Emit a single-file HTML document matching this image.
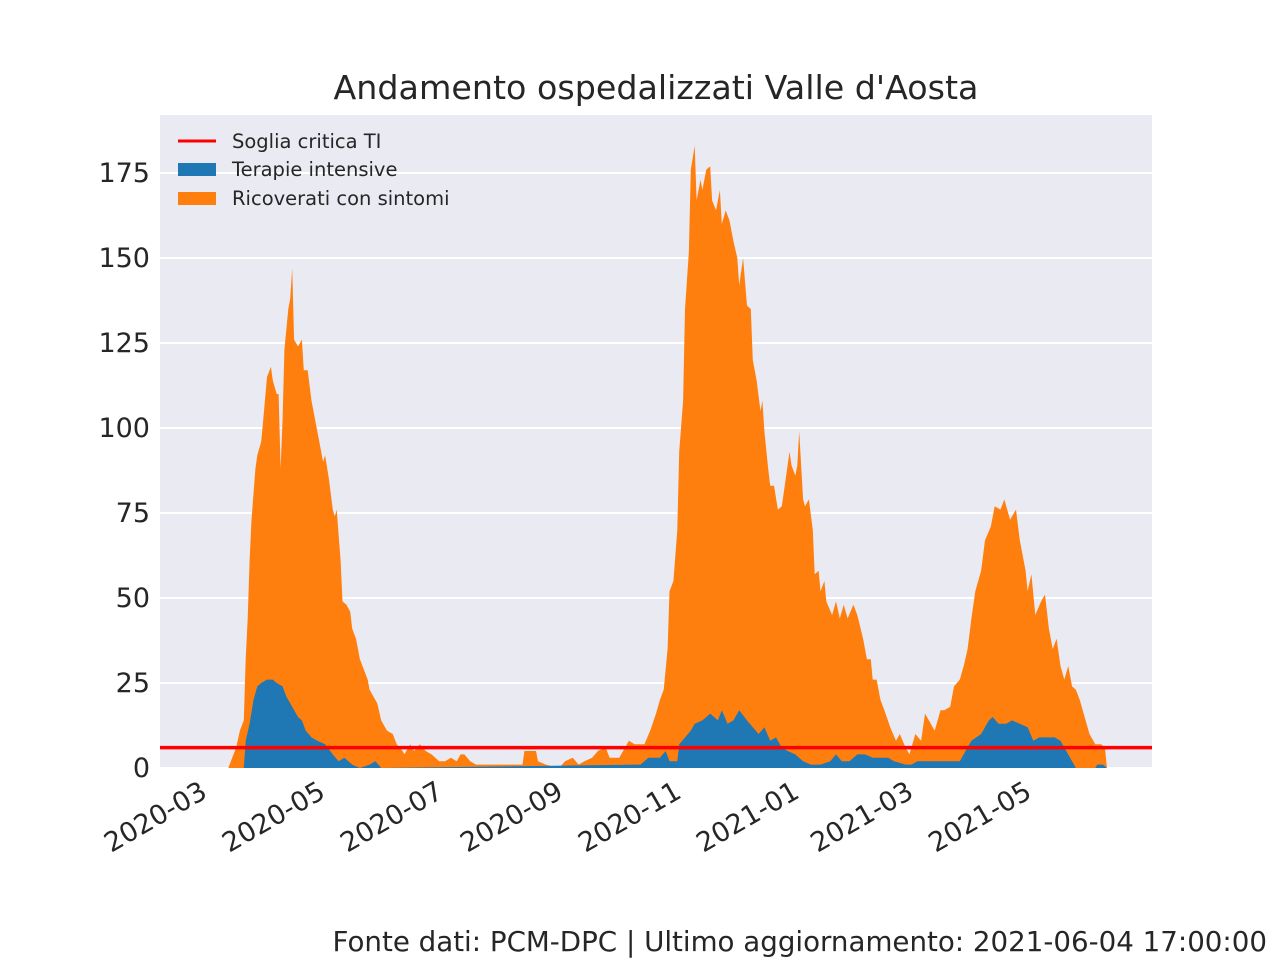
<!DOCTYPE html>
<html><head><meta charset="utf-8"><style>
body{margin:0;background:#fff}
svg text{font-family:"DejaVu Sans","Liberation Sans",sans-serif;fill:#262626}
</style></head><body>
<svg id="c" width="1280" height="960" xmlns="http://www.w3.org/2000/svg">
<rect x="160" y="115" width="992" height="653" fill="#eaeaf2"/>
<g id="grid"></g><g id="series"></g><g id="axes"></g>
<text x="656" y="99" font-size="33.3" text-anchor="middle">Andamento ospedalizzati Valle d'Aosta</text>
<g>
<line x1="178" y1="141" x2="216" y2="141" stroke="#ff0000" stroke-width="3"/>
<text x="232" y="148" font-size="19.5">Soglia critica TI</text>
<rect x="178" y="163" width="38" height="13" fill="#1f77b4"/>
<text x="232" y="176" font-size="19.5">Terapie intensive</text>
<rect x="178" y="192" width="38" height="13" fill="#ff7f0e"/>
<text x="232" y="205" font-size="19.5">Ricoverati con sintomi</text>
</g>
<text x="1267" y="951" font-size="27.7" text-anchor="end">Fonte dati: PCM-DPC | Ultimo aggiornamento: 2021-06-04 17:00:00</text>
</svg>
<script>
// days since 2020-02-24
const totalDays=[12,14,16,18,20,21,22,23,24,26,27,29,30,32,34,35,37,38,39,40,41,43,44,45,46,48,50,51,53,55,57,59,61,62,64,66,67,68,70,71,73,75,76,78,80,82,84,85,88,89,91,94,97,99,102,103,106,108,111,114,117,121,124,127,130,132,134,137,140,164,165,171,172,176,183,186,190,193,196,200,203,207,209,214,219,222,227,230,233,235,237,239,240,242,244,245,247,248,250,251,253,254,256,257,259,261,262,264,266,267,269,271,273,275,276,278,280,282,283,285,287,288,289,291,292,294,296,298,300,302,303,305,306,307,309,310,312,314,315,317,318,320,321,324,326,328,330,332,335,337,340,342,344,345,347,349,351,354,357,359,362,364,367,370,372,375,377,380,382,385,387,390,392,394,396,398,401,403,406,408,411,413,416,419,421,424,425,427,429,432,434,436,438,440,442,444,446,448,450,452,455,457,460,463,465,466];
const totalValues=[0,3,6,11,14,32,44,61,73,88,92,96,102,115,118,114,110,110,88,102,123,135,138,147,126,124,126,117,117,108,102,96,90,92,85,76,74,76,61,49,48,46,41,38,32,29,26,23,20,19,14,11,10,7,5,4,7,5,7,5,4,2,2,3,2,4,4,2,1,1,5,5,2,1,0,2,3,1,2,3,5,6,3,3,8,7,7,11,16,20,23,35,52,55,70,93,108,135,152,176,183,167,173,170,176,177,167,164,170,160,164,161,155,150,142,150,136,135,120,114,105,108,99,88,83,83,76,77,85,93,89,86,89,99,79,77,79,70,57,58,52,55,49,45,49,44,48,44,48,45,38,32,32,26,26,20,17,12,8,10,6,4,10,8,16,13,11,17,17,18,24,26,30,35,44,52,58,67,71,77,76,79,73,76,67,58,52,57,45,49,51,41,35,38,30,26,30,24,23,20,14,10,7,7,6,0];
const tiDays=[20,21,23,25,27,29,32,35,37,40,42,45,48,50,52,55,58,62,66,69,72,76,80,85,88,91,225,229,235,238,240,244,245,251,253,257,261,265,267,270,273,276,280,283,286,289,292,295,298,301,305,309,313,318,323,326,329,333,337,341,345,353,356,362,365,368,390,393,396,401,405,407,410,414,417,421,425,428,431,435,439,442,445,448,450,460,461,464,466];
const tiValues=[0,8,13,20,24,25,26,26,25,24,21,18,15,14,11,9,8,7,4,2,3,1,0,1,2,0,1,3,3,5,2,2,7,11,13,14,16,14,17,13,14,17,14,12,10,12,8,9,6,5,4,2,1,1,2,4,2,2,4,4,3,3,2,1,1,2,2,5,8,10,14,15,13,13,14,13,12,8,9,9,9,8,5,2,0,0,1,1,0];
const threshold=6;
const yTicks=[0,25,50,75,100,125,150,175];
const xTickDays=[6,67,128,190,251,312,371,432];
const xTickLabels=["2020-03","2020-05","2020-07","2020-09","2020-11","2021-01","2021-03","2021-05"];

const NS="http://www.w3.org/2000/svg";
const X0=160,X1=1152,Y0=768;
const span=466, pad=span*0.05;
const xs=d=>X0+(d+pad)/(span+2*pad)*(X1-X0);
const ys=v=>Y0-v*3.4;
function mk(tag,attrs,parent){const e=document.createElementNS(NS,tag);for(const k in attrs)e.setAttribute(k,attrs[k]);parent.appendChild(e);return e;}
const grid=document.getElementById('grid'),series=document.getElementById('series'),axes=document.getElementById('axes');
yTicks.forEach(v=>{
  const l=mk('line',{x1:X0,x2:X1,y1:ys(v),y2:ys(v),stroke:'#fff','stroke-width':2},grid);
  
  
  const t=mk('text',{x:150,y:ys(v)+9,'font-size':27,'text-anchor':'end'},axes);
  t.textContent=v;
  
  
});
xTickDays.forEach((d,i)=>{
  const x=xs(d)-18, y=779;
  const t=mk('text',{x:x,y:y,'font-size':27,'text-anchor':'end',transform:`rotate(-30 ${x} ${y})`},axes);
  t.setAttribute('dy','0.75em');
  t.textContent=xTickLabels[i];
  
  
});
function area(days,vals,fill,name){
  let p=`${xs(days[0])},${Y0} `;
  days.forEach((d,i)=>{p+=`${xs(d).toFixed(1)},${ys(vals[i]).toFixed(1)} `;});
  p+=`${xs(days[days.length-1])},${Y0}`;
  const e=mk('polygon',{points:p,fill:fill},series);
  
  
}
area(totalDays,totalValues,'#ff7f0e','ricoverati-area');
area(tiDays,tiValues,'#1f77b4','terapie-intensive-area');
const th=mk('line',{x1:X0,x2:X1,y1:ys(threshold),y2:ys(threshold),stroke:'#ff0000','stroke-width':3.5},series);


</script>
</body></html>
